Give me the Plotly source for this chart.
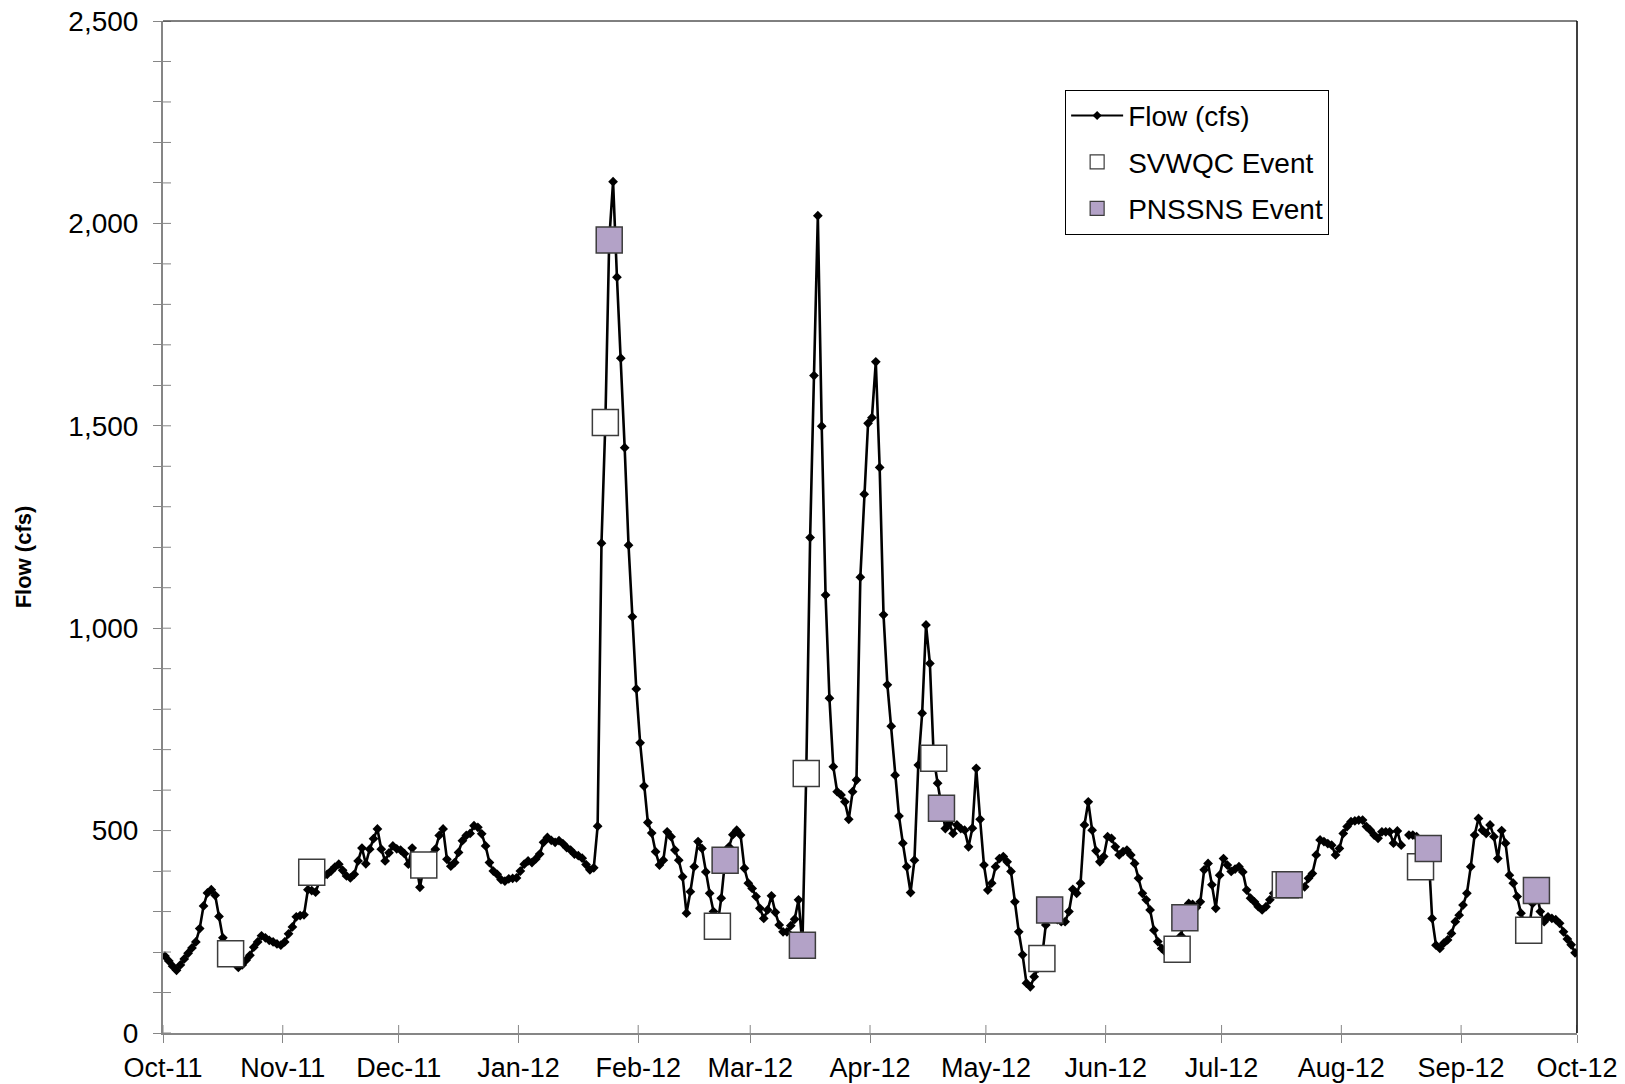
import pandas as pd
import plotly.graph_objects as go

# ---- data (daily flow, Oct 1 2011 - Sep 30 2012; None = missing day) ----
start_date = "2011-10-01"
flow_oct11 = [190,178,165,155,168,183,197,210,225,258,314,346,354,340,288,235,215,195,178,162,168,180,192,212,225,240,235,229,225,220,217]
flow_nov11 = [225,245,262,287,290,292,354,352,348,375,388,392,400,410,417,402,388,383,392,425,457,418,454,480,504,454,425,445,462,455]
flow_dec11 = [452,443,417,457,420,360,410,428,440,454,488,504,429,412,421,446,475,488,493,512,508,492,462,421,400,392,379,375,381,382,383]
flow_jan12 = [400,417,425,421,430,442,471,483,476,471,475,468,458,452,442,438,432,416,403,408,511,1210,1508,1959,2103,1867,1667,1446,1205,1028,850]
flow_feb12 = [717,610,520,494,448,415,427,497,485,452,427,386,296,349,411,473,456,398,345,300,264,333,427,460,490,501,489,407,370]
flow_mar12 = [357,337,308,283,304,339,298,267,250,250,265,281,329,217,641,1224,1624,2019,1499,1082,827,658,596,588,571,528,596,625,1126,1331,1506]
flow_apr12 = [1520,1658,1397,1033,860,758,637,536,469,411,347,427,662,790,1008,913,679,617,555,505,518,493,514,505,501,460,506,654,528,415]
flow_may12 = [353,370,411,431,436,423,399,324,250,193,123,114,139,160,184,267,304,290,280,275,275,300,355,345,370,514,571,501,450,423,436]
flow_jun12 = [485,481,460,440,448,452,440,419,382,345,329,304,254,226,209,200,192,190,207,240,285,320,318,310,324,403,419,366,308,390]
flow_jul12 = [431,415,399,405,411,398,353,333,324,312,304,312,329,345,355,362,366,366,365,362,360,361,382,394,440,477,473,468,464,440,456]
flow_aug12 = [493,510,522,524,526,526,510,501,489,481,497,497,497,469,499,464,None,489,489,485,475,470,460,283,217,209,222,230,246,275,291]
flow_sep12 = [316,345,411,489,530,501,493,514,485,431,500,469,390,370,337,296,270,254,320,352,300,275,287,283,280,271,250,232,218,198]

svwqc_dates = ["2011-10-18","2011-11-08","2011-12-07","2012-01-23","2012-02-21","2012-03-15",
               "2012-04-17","2012-05-15","2012-06-19","2012-07-17","2012-08-21","2012-09-18"]
svwqc_values = [196,397,415,1508,264,641,679,184,207,366,411,254]

pnssns_dates = ["2012-01-24","2012-02-23","2012-03-14","2012-04-19","2012-05-17","2012-06-21",
                "2012-07-18","2012-08-23","2012-09-20"]
pnssns_values = [1959,427,217,555,304,285,366,456,352]

y_major_ticks = [0, 500, 1000, 1500, 2000, 2500]
y_minor_step = 100
month_ticks = pd.date_range("2011-10-01", "2012-10-01", freq="MS")
month_labels = [d.strftime("%b-%y") for d in month_ticks]

# ---- build ----
flow = (flow_oct11 + flow_nov11 + flow_dec11 + flow_jan12 + flow_feb12 + flow_mar12 +
        flow_apr12 + flow_may12 + flow_jun12 + flow_jul12 + flow_aug12 + flow_sep12)
half_day = pd.Timedelta(hours=12)
flow_dates = pd.date_range(start_date, periods=len(flow), freq="D") + half_day
sv_x = pd.to_datetime(svwqc_dates) + half_day
pn_x = pd.to_datetime(pnssns_dates) + half_day

FONT = "Liberation Sans, Arial, sans-serif"
AXIS_GRAY = "#868686"
PURPLE = "#B3A2C7"
SQ_EDGE = "#3c3c3c"
TICKLEN = 8

fig = go.Figure()
fig.add_trace(go.Scatter(x=flow_dates, y=flow, mode="lines+markers", name="Flow (cfs)",
                         line=dict(color="black", width=2.6),
                         marker=dict(symbol="diamond", size=7.5, color="black"),
                         connectgaps=False, showlegend=False))
fig.add_trace(go.Scatter(x=sv_x, y=svwqc_values, mode="markers", name="SVWQC Event",
                         marker=dict(symbol="square", size=26, color="white",
                                     line=dict(color=SQ_EDGE, width=1.5)),
                         showlegend=False))
fig.add_trace(go.Scatter(x=pn_x, y=pnssns_values, mode="markers", name="PNSSNS Event",
                         marker=dict(symbol="square", size=26, color=PURPLE,
                                     line=dict(color=SQ_EDGE, width=1.5)),
                         showlegend=False))

# legend entries (small symbols, as in the original)
fig.add_trace(go.Scatter(x=[None], y=[None], mode="lines+markers", name="Flow (cfs)",
                         line=dict(color="black", width=2),
                         marker=dict(symbol="diamond", size=7, color="black"),
                         legendgroup="a"))
fig.add_trace(go.Scatter(x=[None], y=[None], mode="markers", name="SVWQC Event",
                         marker=dict(symbol="square", size=14, color="white",
                                     line=dict(color=SQ_EDGE, width=1.2)),
                         legendgroup="b"))
fig.add_trace(go.Scatter(x=[None], y=[None], mode="markers", name="PNSSNS Event",
                         marker=dict(symbol="square", size=14, color=PURPLE,
                                     line=dict(color=SQ_EDGE, width=1.2)),
                         legendgroup="c"))

# inner halves of the crossing tick marks (outer halves come from the axes)
shapes = []
for t in month_ticks:
    shapes.append(dict(type="line", xref="x", x0=t, x1=t, yref="paper", ysizemode="pixel",
                       yanchor=0, y0=0, y1=TICKLEN, line=dict(color=AXIS_GRAY, width=1)))
for v in range(0, 2501, y_minor_step):
    shapes.append(dict(type="line", yref="y", y0=v, y1=v, xref="paper", xsizemode="pixel",
                       xanchor=0, x0=0, x1=TICKLEN, line=dict(color=AXIS_GRAY, width=1)))
# top / right frame
shapes.append(dict(type="line", xref="paper", yref="paper", x0=0, x1=1, y0=1, y1=1,
                   line=dict(color="black", width=1)))
shapes.append(dict(type="line", xref="paper", yref="paper", x0=1, x1=1, y0=0, y1=1,
                   line=dict(color="black", width=1.5)))

x_range = [month_ticks[0], month_ticks[-1]]
fig.update_layout(
    width=1625, height=1084,
    margin=dict(l=163, r=48, t=21, b=51),
    paper_bgcolor="white", plot_bgcolor="white",
    font=dict(family=FONT, size=28, color="black"),
    showlegend=True,
    legend=dict(x=0.638, y=0.932, xanchor="left", yanchor="top",
                bordercolor="black", borderwidth=1, bgcolor="white",
                font=dict(size=28), traceorder="grouped", tracegroupgap=7,
                itemwidth=52),
    xaxis=dict(type="date", range=x_range, tickvals=month_ticks, ticktext=month_labels,
               automargin=False,
               showgrid=False, zeroline=False, showline=True, linecolor=AXIS_GRAY, linewidth=2,
               ticks="outside", ticklen=TICKLEN, tickwidth=1, tickcolor=AXIS_GRAY,
               ticklabelstandoff=2, tickfont=dict(size=27)),
    yaxis=dict(range=[0, 2500], tickvals=y_major_ticks, tickformat=",",
               automargin=False,
               showgrid=False, zeroline=False, showline=True, linecolor=AXIS_GRAY, linewidth=2,
               ticks="outside", ticklen=TICKLEN, tickwidth=1, tickcolor=AXIS_GRAY,
               minor=dict(dtick=y_minor_step, ticks="outside", ticklen=TICKLEN, tickwidth=1,
                          tickcolor=AXIS_GRAY),
               ticklabelstandoff=9, tickfont=dict(size=28)),
    shapes=shapes,
    annotations=[
        dict(text="<b>Flow (cfs)</b>", xref="paper", yref="paper", x=-0.099, y=0.47,
             xanchor="center", yanchor="middle", textangle=-90, showarrow=False,
             font=dict(size=22, family=FONT)),
    ],
)

fig.write_html("out.html", config={"displayModeBar": False},
               post_script="document.body.style.margin='0';document.body.style.overflow='hidden';")
